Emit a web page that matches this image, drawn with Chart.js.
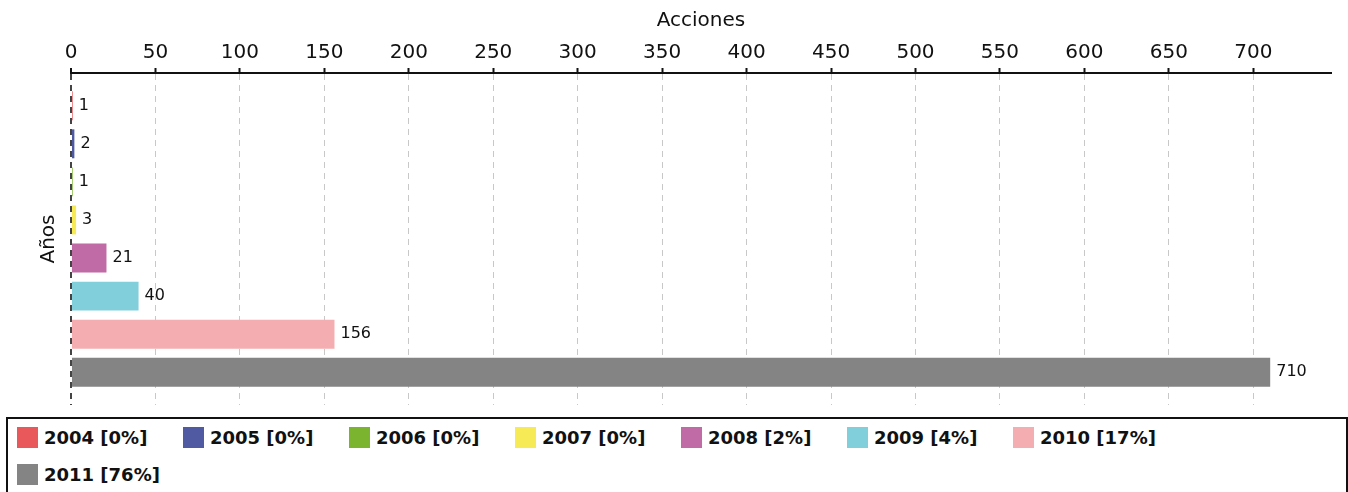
<!DOCTYPE html>
<html>
<head>
<meta charset="utf-8">
<script src="https://cdn.jsdelivr.net/npm/chart.js@4.4.1/dist/chart.umd.min.js"></script>
<style>
    body { margin: 0; background: #fff; }
    #wrap { position: relative; width: 1348px; height: 492px; overflow: hidden; }
    #acciones { position: absolute; left: 0; top: 0; }
    #legend {
        position: absolute; left: 6px; top: 417px; width: 1342px; height: 120px;
        box-sizing: border-box; border: 2px solid #111; padding: 0 40px 0 9px;
        font: bold 18px "DejaVu Sans", sans-serif; color: #111;
    }
    #legend .item { display: inline-flex; align-items: center; width: 166px; height: 37px; vertical-align: top; }
    #legend .box { width: 21px; height: 21px; margin-right: 6px; }
</style>
</head>
<body>
<div id="wrap">
    <canvas id="acciones" width="1348" height="410"></canvas>
    <div id="legend"></div>
</div>
<script>
// Años y acciones por año
const years = ["2004", "2005", "2006", "2007", "2008", "2009", "2010", "2011"];
const acciones = [1, 2, 1, 3, 21, 40, 156, 710];
const colors = ["#e9585b", "#4f5aa3", "#7bb52f", "#f7ea57", "#c06ba6", "#82cfdc", "#f4aeb1", "#848484"];

const total = acciones.reduce((a, b) => a + b, 0);

// etiquetas con el valor al final de cada barra
const valueLabels = {
    id: "valueLabels",
    afterDatasetsDraw(chart) {
        const ctx = chart.ctx;
        const meta = chart.getDatasetMeta(0);
        ctx.save();
        ctx.font = "16px 'DejaVu Sans'";
        ctx.fillStyle = "#111";
        ctx.textBaseline = "middle";
        meta.data.forEach((bar, i) => {
            ctx.fillText(String(acciones[i]), bar.x + 6, bar.y);
        });
        ctx.restore();
    },
};

const ctx = document.getElementById("acciones").getContext("2d");
const chart = new Chart(ctx, {
    type: "bar",
    data: {
        datasets: [
            {
                label: "Acciones",
                data: acciones.map((v, i) => ({ x: v, y: i })),
                backgroundColor: colors,
                borderWidth: 0,
                barPercentage: 0.76,
                categoryPercentage: 1,
            },
        ],
    },
    plugins: [valueLabels],
    options: {
        indexAxis: "y",
        responsive: false,
        animation: false,
        layout: {
            padding: { right: 17, bottom: 5, top: 0, left: 0 },
        },
        scales: {
            x: {
                type: "linear",
                position: "top",
                min: 0,
                max: 746,
                afterFit: (scale) => { scale.height = 73; },
                ticks: {
                    stepSize: 50,
                    includeBounds: false,
                    padding: 3,
                    color: "#111",
                    font: { family: "DejaVu Sans", size: 20 },
                },
                grid: {
                    // the line at 0 works as the dashed Años axis
                    color: (c) => (c.tick && c.tick.value === 0 ? "#444" : "#c8c8c8"),
                    lineWidth: (c) => (c.tick && c.tick.value === 0 ? 2 : 1),
                    tickLength: 5,
                    tickColor: "#111",
                    tickWidth: 2,
                    tickBorderDash: [],
                },
                border: { color: "#111", width: 2, dash: [6, 5] },
                title: {
                    display: true,
                    text: "Acciones",
                    color: "#111",
                    font: { family: "DejaVu Sans", size: 20 },
                    padding: { top: 9, bottom: 0 },
                },
            },
            y: {
                type: "linear",
                reverse: true,
                offset: false,
                bounds: "data",
                min: -0.86,
                max: 7.86,
                afterFit: (scale) => { scale.width = 71; },
                afterBuildTicks: (scale) => {
                    scale.ticks = years.map((_, i) => ({ value: i }));
                },
                ticks: { display: false },
                grid: { display: false },
                border: { display: false },
                title: {
                    display: true,
                    text: "Años",
                    color: "#111",
                    font: { family: "DejaVu Sans", size: 20 },
                    padding: { top: 37, bottom: 0 },
                },
            },
        },
        plugins: {
            legend: { display: false },
            tooltip: { enabled: false },
        },
    },
});

// leyenda en HTML
const legendEl = document.getElementById("legend");
years.forEach((year, i) => {
    const pct = Math.round((acciones[i] / total) * 100);
    const item = document.createElement("span");
    item.className = "item";
    const box = document.createElement("span");
    box.className = "box";
    box.style.background = colors[i];
    item.appendChild(box);
    item.appendChild(document.createTextNode(year + " [" + pct + "%]"));
    legendEl.appendChild(item);
});
</script>
</body>
</html>
